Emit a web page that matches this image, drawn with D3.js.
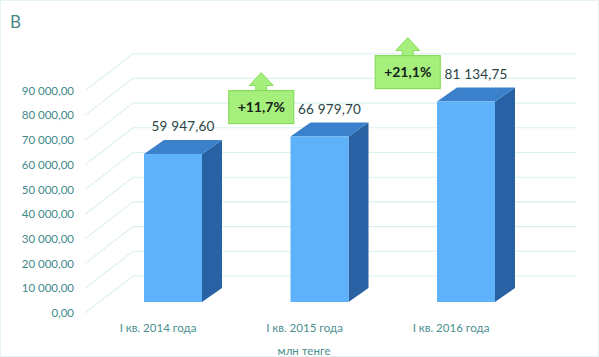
<!DOCTYPE html>
<html>
<head>
<meta charset="utf-8">
<script src="https://cdn.jsdelivr.net/npm/d3@7"></script>
<style>
  html, body { margin: 0; padding: 0; background: #fff; }
  svg { display: block; font-family: Lato, "Open Sans", sans-serif; }
</style>
</head>
<body>
<svg id="chart" width="599" height="357"></svg>
<script>
// ---- data ----
const categories = ["I кв. 2014 года", "I кв. 2015 года", "I кв. 2016 года"];
const values = [59947.60, 66979.70, 81134.75];
const valueLabels = ["59 947,60", "66 979,70", "81 134,75"];
const growthLabels = ["+11,7%", "+21,1%"];
const tickValues = [0, 10000, 20000, 30000, 40000, 50000, 60000, 70000, 80000, 90000];
const tickLabels = ["0,00", "10 000,00", "20 000,00", "30 000,00", "40 000,00",
                    "50 000,00", "60 000,00", "70 000,00", "80 000,00", "90 000,00"];
const title = "В";
const axisTitle = "млн тенге";

// ---- layout ----
const svg = d3.select("#chart");
const W = 599, H = 357;

// y scale on the plane of the bar fronts
const y = d3.scaleLinear().domain([0, 90000]).range([302, 79.7]);
// x positions of bar front centres
const x = d3.scalePoint().domain(categories).range([173, 466]);

const barW = 58, depthX = 20, depthY = 14;
const backDY = 26, labelDY = 11;
const wallLeft = 133, wallRight = 576, labelX = 85;

// faint frame
svg.append("rect").attr("x", 0.5).attr("y", 0.5).attr("width", W - 1).attr("height", H - 1)
  .attr("fill", "none").attr("stroke", "#e6f3f3");

// title
svg.append("text").attr("x", 10).attr("y", 28).attr("font-size", 17)
  .attr("fill", "#4a8888").text(title);

// gridlines: back wall + left diagonal
const grid = svg.append("g").attr("stroke", "#dcf0f0").attr("fill", "none").attr("stroke-width", 1.1);
tickValues.forEach(v => {
  const yb = y(v) - backDY, yf = y(v) + labelDY;
  grid.append("path").attr("d", d3.line()([[labelX, yf], [wallLeft, yb], [wallRight, yb]]));
});

// tick labels
svg.append("g").selectAll("text").data(tickValues).join("text")
  .attr("x", 74).attr("y", d => y(d) + labelDY)
  .attr("dy", "0.35em").attr("text-anchor", "end")
  .attr("font-size", 11.5).attr("fill", "#3f8a8a")
  .text((d, i) => tickLabels[i]);

// bars
const bars = svg.append("g");
categories.forEach((c, i) => {
  const x0 = x(c) - barW / 2, x1 = x(c) + barW / 2;
  const yt = y(values[i]), yb = y(0);
  // side
  bars.append("path").attr("fill", "#2862a4")
    .attr("d", d3.line()([[x1, yt], [x1 + depthX, yt - depthY], [x1 + depthX, yb - depthY], [x1, yb]]));
  // top
  bars.append("path").attr("fill", "#3a80ca")
    .attr("d", d3.line()([[x0, yt], [x0 + depthX, yt - depthY], [x1 + depthX, yt - depthY], [x1, yt]]));
  // front
  bars.append("rect").attr("x", x0).attr("y", yt).attr("width", barW).attr("height", yb - yt)
    .attr("fill", "#5db2fa");
  // value label
  svg.append("text").attr("x", x(c) + depthX / 2).attr("y", yt - 23)
    .attr("text-anchor", "middle").attr("font-size", 13.5).attr("fill", "#2a4446")
    .attr("letter-spacing", "0.2").text(valueLabels[i]);
  // category label
  svg.append("text").attr("x", x(c) - 15).attr("y", 332)
    .attr("text-anchor", "middle").attr("font-size", 11.5).attr("fill", "#4a9090")
    .text(c);
});

// growth callouts
growthLabels.forEach((g, i) => {
  const ca = categories[i], cb = categories[i + 1];
  const cx = (x(ca) + x(cb)) / 2 + depthX / 2 + 5;
  const bottom = y(values[i + 1]) - depthY + 1;
  const bw = 65, bh = 33, top = bottom - bh;
  const grp = svg.append("g");
  grp.append("path").attr("fill", "#a6ef7c").attr("stroke", "#85dc5c").attr("stroke-width", 1)
    .attr("d", d3.line()([
      [cx - 5.5, top], [cx - 5.5, top - 5], [cx - 12, top - 5], [cx, top - 18],
      [cx + 12, top - 5], [cx + 5.5, top - 5], [cx + 5.5, top]
    ]) + "Z");
  grp.append("rect").attr("x", cx - bw / 2).attr("y", top).attr("width", bw).attr("height", bh)
    .attr("fill", "#a6ef7c").attr("stroke", "#85dc5c").attr("stroke-width", 1.2);
  grp.append("text").attr("x", cx).attr("y", top + bh / 2).attr("dy", "0.35em")
    .attr("text-anchor", "middle").attr("font-size", 14).attr("font-weight", "bold")
    .attr("fill", "#15231a").text(g);
});

// axis title
svg.append("text").attr("x", 304).attr("y", 355).attr("text-anchor", "middle")
  .attr("font-size", 11.5).attr("fill", "#4a9090").text(axisTitle);
</script>
</body>
</html>
